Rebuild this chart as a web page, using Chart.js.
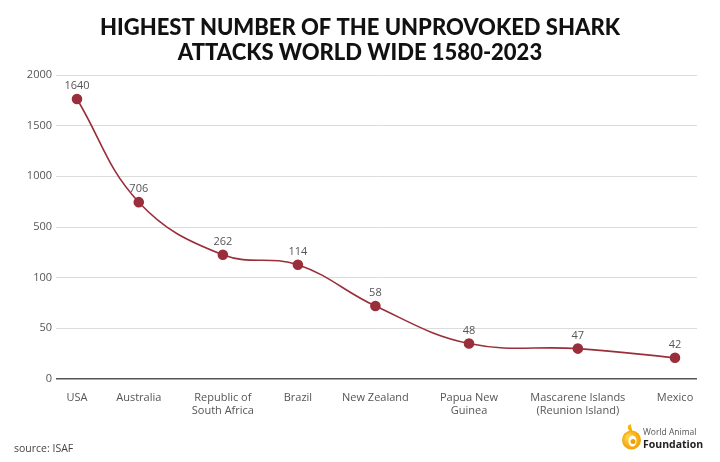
<!DOCTYPE html>
<html>
<head>
<meta charset="utf-8">
<script src="https://cdn.jsdelivr.net/npm/chart.js@4.4.1/dist/chart.umd.min.js"></script>
<style>
  html, body { margin: 0; padding: 0; background: #ffffff; }
  #wrap { width: 720px; height: 462px; position: relative; }
</style>
</head>
<body>
<div id="wrap"><canvas id="c" width="720" height="462"></canvas></div>
<script>
// ---- data ----
const titleLines = ['HIGHEST NUMBER OF THE UNPROVOKED SHARK', 'ATTACKS WORLD WIDE 1580-2023'];
const countries = ['USA', 'Australia', ['Republic of', 'South Africa'], 'Brazil', 'New Zealand',
                   ['Papua New', 'Guinea'], ['Mascarene Islands', '(Reunion Island)'], 'Mexico'];
const attacks = [1640, 706, 262, 114, 58, 48, 47, 42];            // labelled values
const markerLevel = [1763, 745, 281, 202, 72, 35, 30, 21];         // where markers sit on the axis (as read)
const yTickLabels = [0, 50, 100, 500, 1000, 1500, 2000];           // evenly spaced axis ticks
const sourceText = 'source: ISAF';

// ---- helpers ----
const FONT = '"Open Sans", "DejaVu Sans", sans-serif';
const labelFontSize = 11;
function toAxis(v) {
  for (let i = 0; i < yTickLabels.length - 1; i++) {
    const a = yTickLabels[i], b = yTickLabels[i + 1];
    if (v <= b || i === yTickLabels.length - 2) return i + (v - a) / (b - a);
  }
}
// category centres spaced by label widths (constant gap between labels)
const mctx = document.createElement('canvas').getContext('2d');
mctx.font = labelFontSize + 'px ' + FONT;
const widths = countries.map(l => Math.max(...[].concat(l).map(s => mctx.measureText(s).width)));
const gap = 24;
const centres = [0];
for (let i = 1; i < widths.length; i++) centres.push(centres[i - 1] + (widths[i - 1] + widths[i]) / 2 + gap);
const span = centres[centres.length - 1];
const xMin = -span * 21 / 598, xMax = span + span * 22 / 598;

const points = centres.map((x, i) => ({ x: x, y: toAxis(markerLevel[i]) }));

const lineColor = '#9a2e3b';

const decor = {
  id: 'decor',
  afterDraw(chart) {
    const ctx = chart.ctx;
    ctx.save();
    // title
    ctx.fillStyle = '#111';
    ctx.font = '900 22px Lato, sans-serif';
    ctx.textAlign = 'center';
    ctx.textBaseline = 'alphabetic';
    ctx.fillText(titleLines[0], 360, 35);
    ctx.fillText(titleLines[1], 360, 60);
    // data labels
    const meta = chart.getDatasetMeta(0);
    ctx.font = labelFontSize + 'px ' + FONT;
    ctx.fillStyle = '#555';
    ctx.textBaseline = 'middle';
    meta.data.forEach((pt, i) => {
      ctx.fillText(String(attacks[i]), pt.x, pt.y - 13);
    });
    // source
    ctx.textAlign = 'left';
    ctx.font = '10.5px ' + FONT;
    ctx.fillStyle = '#444';
    ctx.fillText(sourceText, 14, 449);
    // logo
    const cx = 631.5, cy = 440;
    const g = ctx.createRadialGradient(cx - 3, cy - 3, 2, cx, cy, 10);
    g.addColorStop(0, '#ffd04a');
    g.addColorStop(1, '#f0a000');
    ctx.fillStyle = g;
    ctx.beginPath(); ctx.arc(cx, cy, 9.5, 0, Math.PI * 2); ctx.fill();
    ctx.fillStyle = '#fff';
    ctx.beginPath(); ctx.ellipse(cx + 1, cy + 1, 4, 5.5, 0, 0, Math.PI * 2); ctx.fill();
    ctx.fillStyle = '#f0a000';
    ctx.beginPath(); ctx.arc(cx + 1.5, cy + 1.5, 2.5, 0, Math.PI * 2); ctx.fill();
    ctx.fillStyle = '#f5b400';
    ctx.beginPath(); ctx.moveTo(cx - 2, cy - 9); ctx.quadraticCurveTo(cx - 6, cy - 14, cx - 1, cy - 16); ctx.quadraticCurveTo(cx + 0, cy - 12, cx + 1, cy - 9); ctx.fill();
    ctx.fillStyle = '#555';
    ctx.font = '8.5px ' + FONT;
    ctx.fillText('World Animal', 643, 433);
    ctx.fillStyle = '#222';
    ctx.font = 'bold 10.5px ' + FONT;
    ctx.fillText('Foundation', 643, 445);
    ctx.restore();
  }
};

new Chart(document.getElementById('c'), {
  type: 'line',
  data: {
    datasets: [{
      data: points,
      borderColor: lineColor,
      borderWidth: 1.6,
      backgroundColor: lineColor,
      pointBackgroundColor: lineColor,
      pointBorderColor: lineColor,
      pointRadius: 4.5,
      tension: 0.4,
      fill: false
    }]
  },
  options: {
    responsive: false,
    animation: false,
    devicePixelRatio: 1,
    layout: { padding: { top: 75, right: 23, left: 0, bottom: 0 } },
    plugins: { legend: { display: false }, tooltip: { enabled: false }, title: { display: false } },
    scales: {
      x: {
        type: 'linear',
        min: xMin, max: xMax,
        grid: { display: false, drawTicks: false },
        border: { display: false },
        afterBuildTicks: s => { s.ticks = centres.map(v => ({ value: v })); },
        afterFit: s => { s.height = 83; },
        ticks: {
          autoSkip: false, maxRotation: 0, padding: 12,
          color: '#555', font: { family: FONT, size: labelFontSize },
          callback: (v, i) => countries[i]
        }
      },
      y: {
        type: 'linear',
        min: 0, max: yTickLabels.length - 1,
        afterFit: s => { s.width = 56; },
        grid: {
          drawTicks: false,
          color: ctx => ctx.tick && ctx.tick.value === 0 ? '#555' : '#dcdcdc',
          lineWidth: ctx => ctx.tick && ctx.tick.value === 0 ? 1.6 : 1
        },
        border: { display: false },
        ticks: {
          stepSize: 1, padding: 4,
          color: '#555', font: { family: FONT, size: labelFontSize },
          callback: (v) => yTickLabels[v]
        }
      }
    }
  },
  plugins: [decor]
});
</script>
</body>
</html>
